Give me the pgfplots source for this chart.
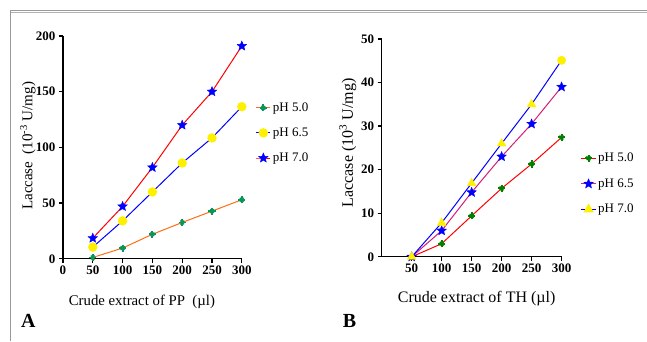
\documentclass[border=0pt]{standalone}
\usepackage{fontspec}
\setmainfont{Liberation Serif}
\usepackage{pgfplots}
\pgfplotsset{compat=1.18}
\usetikzlibrary{plotmarks}

\pgfdeclareplotmark{fstar}{%
  \pgfpathmoveto{\pgfpointpolar{90}{\pgfplotmarksize}}%
  \pgfpathlineto{\pgfpointpolar{126}{0.45\pgfplotmarksize}}%
  \pgfpathlineto{\pgfpointpolar{162}{\pgfplotmarksize}}%
  \pgfpathlineto{\pgfpointpolar{198}{0.45\pgfplotmarksize}}%
  \pgfpathlineto{\pgfpointpolar{234}{\pgfplotmarksize}}%
  \pgfpathlineto{\pgfpointpolar{270}{0.45\pgfplotmarksize}}%
  \pgfpathlineto{\pgfpointpolar{306}{\pgfplotmarksize}}%
  \pgfpathlineto{\pgfpointpolar{342}{0.45\pgfplotmarksize}}%
  \pgfpathlineto{\pgfpointpolar{18}{\pgfplotmarksize}}%
  \pgfpathlineto{\pgfpointpolar{54}{0.45\pgfplotmarksize}}%
  \pgfpathclose
  \pgfusepathqfillstroke
}
\pgfdeclareplotmark{ast8}{%
  \pgfsetlinewidth{1.9pt}%
  \pgfpathmoveto{\pgfqpoint{-\pgfplotmarksize}{0pt}}\pgfpathlineto{\pgfqpoint{\pgfplotmarksize}{0pt}}%
  \pgfpathmoveto{\pgfqpoint{0pt}{-\pgfplotmarksize}}\pgfpathlineto{\pgfqpoint{0pt}{\pgfplotmarksize}}%
  \pgfusepathqstroke
  \pgfsetlinewidth{1.2pt}%
  \pgfpathmoveto{\pgfpointpolar{45}{0.75\pgfplotmarksize}}\pgfpathlineto{\pgfpointpolar{225}{0.75\pgfplotmarksize}}%
  \pgfpathmoveto{\pgfpointpolar{135}{0.75\pgfplotmarksize}}\pgfpathlineto{\pgfpointpolar{315}{0.75\pgfplotmarksize}}%
  \pgfusepathqstroke
}

\definecolor{gA}{RGB}{10,150,90}
\definecolor{gB}{RGB}{0,128,0}
\definecolor{orA}{RGB}{255,110,20}
\definecolor{magB}{RGB}{210,30,120}
\definecolor{yel}{RGB}{255,240,0}

\pgfplotstableread{
x p50 p65 p70
50 1.2 10.5 18.5
100 9.6 34 47
150 22 60 82
200 32.6 86 120
250 42.8 108.5 150
300 53 136.5 191
}\dataA

\pgfplotstableread{
x p50 p65 p70
50 0 0 0
100 3 6 7.8
150 9.4 14.8 16.9
200 15.7 23 26
250 21.3 30.5 35
300 27.4 39 45.1
}\dataB

\pgfplotsset{
  myaxis/.style={
    scale only axis, axis lines=left, axis line style={-, line width=1.3pt},
    tick align=outside, major tick length=4pt,
    tick style={line width=1.3pt, black},
    /pgf/number format/assume math mode=true,
    ticklabel style={font=\bfseries\fontsize{13}{13}\selectfont},
    xmin=0, xmax=300, clip=false,
    legend cell align=left,
    legend image code/.code={\draw[mark repeat=2,mark phase=2] plot coordinates {(0cm,0cm)(0.25cm,0cm)(0.5cm,0cm)};},
  },
}

\begin{document}
\begin{tikzpicture}[x=1pt,y=1pt]
\path (0,0) rectangle (647,341);
\draw[gray!80, line width=1pt] (11,0) -- (11,330) -- (647,330);
\draw[gray!60, line width=0.6pt] (11,329) -- (647,329);

\begin{axis}[myaxis, at={(63pt,82pt)}, anchor=south west,
  width=179pt, height=223pt, ymin=0, ymax=200,
  xtick={0,50,...,300}, ytick={0,50,...,200},
  legend style={at={(1.06,0.565)}, anchor=west, draw=none, fill=none,
    font=\fontsize{13}{13}\selectfont, row sep=11pt}]
\addplot[orA, line width=1pt, mark=ast8, mark size=3.6pt, mark options={gA}] table[x=x,y=p50] {\dataA};
\addlegendentry{pH 5.0}
\addplot[blue, line width=1pt, mark=*, mark size=4.2pt, mark options={yel, draw=yel}] table[x=x,y=p65] {\dataA};
\addlegendentry{pH 6.5}
\addplot[red, line width=1pt, mark=fstar, mark size=5pt, mark options={blue, fill=blue, line width=0.4pt}] table[x=x,y=p70] {\dataA};
\addlegendentry{pH 7.0}
\end{axis}

\begin{axis}[myaxis, at={(382pt,84pt)}, anchor=south west,
  width=180pt, height=218pt, ymin=0, ymax=50,
  xtick={50,100,...,300}, ytick={0,10,...,50},
  legend style={at={(1.09,0.335)}, anchor=west, draw=none, fill=none,
    font=\fontsize{13}{13}\selectfont, row sep=11.5pt}]
\addplot[red, line width=1pt, mark=ast8, mark size=3.6pt, mark options={gB}] table[x=x,y=p50] {\dataB};
\addlegendentry{pH 5.0}
\addplot[magB, line width=1pt, mark=fstar, mark size=5pt, mark options={blue, fill=blue, line width=0.4pt}] table[x=x,y=p65] {\dataB};
\addlegendentry{pH 6.5}
\addplot[blue, line width=1pt, forget plot] table[x=x,y=p70] {\dataB};
\addplot[only marks, forget plot, mark=triangle*, mark size=5pt, mark options={yel, draw=yel}] coordinates {(50,0) (100,7.8) (150,16.9) (200,26) (250,35)};
\addplot[only marks, forget plot, mark=*, mark size=4.2pt, mark options={yel, draw=yel}] coordinates {(300,45.1)};
\addlegendimage{blue, line width=1pt, mark=triangle*, mark size=5pt, mark options={yel, draw=yel}}
\addlegendentry{pH 7.0}
\end{axis}

\node[anchor=base, font=\fontsize{14.8}{14.8}\selectfont] at (142,35) {Crude extract of PP\ \ (µl)};
\node[anchor=base, font=\fontsize{16}{16}\selectfont] at (477,38) {Crude extract of TH (µl)};
\node[rotate=90, font=\fontsize{15}{15}\selectfont] at (28,195) {Laccase\ \ (10\textsuperscript{-3} U/mg)};
\node[rotate=90, font=\fontsize{16}{16}\selectfont] at (348,198) {Laccase (10\textsuperscript{3} U/mg)};
\node[anchor=base west, font=\bfseries\fontsize{20}{20}\selectfont, inner sep=0pt] at (21,13) {A};
\node[anchor=base west, font=\bfseries\fontsize{20}{20}\selectfont, inner sep=0pt] at (343,13) {B};
\end{tikzpicture}
\end{document}
